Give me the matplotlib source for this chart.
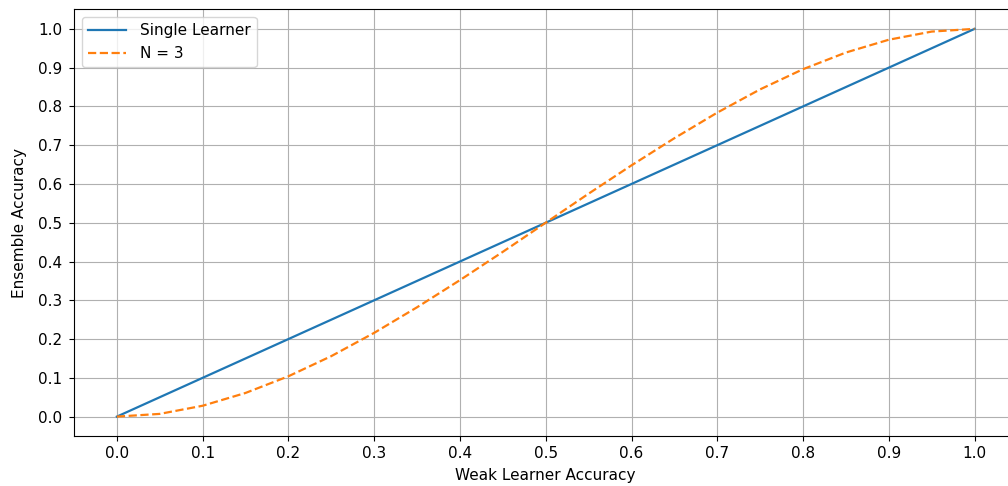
import numpy as np
import matplotlib
matplotlib.use("Agg")
import matplotlib.pyplot as plt

# weak learner accuracy values
acc = [0.0, 0.05, 0.1, 0.15, 0.2, 0.25, 0.3, 0.35, 0.4, 0.45, 0.5,
       0.55, 0.6, 0.65, 0.7, 0.75, 0.8, 0.85, 0.9, 0.95, 1.0]
# single learner = same accuracy
single = [0.0, 0.05, 0.1, 0.15, 0.2, 0.25, 0.3, 0.35, 0.4, 0.45, 0.5,
          0.55, 0.6, 0.65, 0.7, 0.75, 0.8, 0.85, 0.9, 0.95, 1.0]
# ensemble of 3
n3 = [0.0, 0.007, 0.028, 0.061, 0.104, 0.156, 0.216, 0.282, 0.352, 0.425, 0.5,
      0.575, 0.648, 0.718, 0.784, 0.844, 0.896, 0.939, 0.972, 0.993, 1.0]
ticks = [0.0, 0.1, 0.2, 0.3, 0.4, 0.5, 0.6, 0.7, 0.8, 0.9, 1.0]

# reference is stretched sideways, so a slightly bigger font is a middle ground
plt.rcParams["font.size"] = 11

fig = plt.figure(figsize=(10.08, 4.86), dpi=100)
# right edge of the axes falls outside the picture in the reference
ax = fig.add_axes([0.0734, 0.1029, 0.936, 0.8776])
ax.plot(acc, single, color="#1f77b4", lw=1.6, label="Single Learner")
ax.plot(acc, n3, color="#ff7f0e", lw=1.6, linestyle="--", label="N = 3")
ax.set_xticks(ticks)
ax.set_yticks(ticks)
ax.tick_params(axis="y", pad=5)
ax.set_xlabel("Weak Learner Accuracy", labelpad=5)
ax.set_ylabel("Ensemble Accuracy", labelpad=8)
ax.grid(True)
ax.legend(loc="upper left", handlelength=2.5, handletextpad=0.9)
fig.savefig("out.png", dpi=100)
